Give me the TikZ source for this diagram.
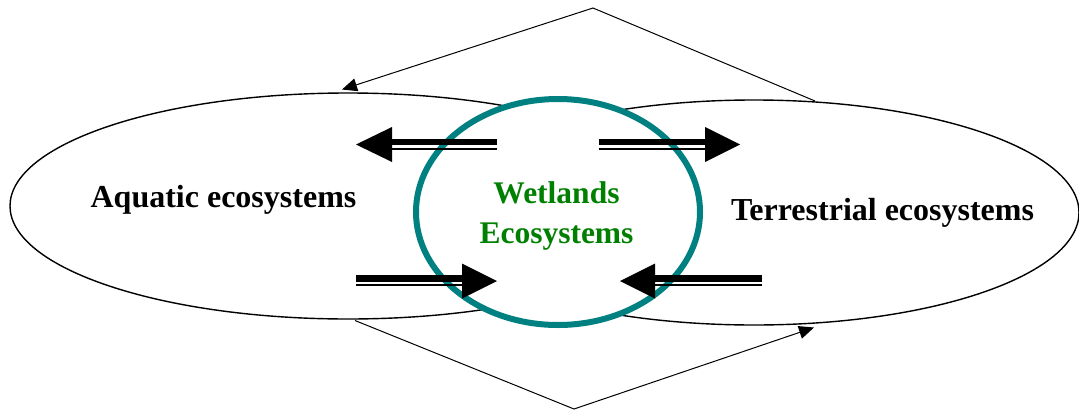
\documentclass[tikz,border=0pt]{standalone}
\usepackage{fontspec}
\setmainfont{Liberation Serif}
\usetikzlibrary{shapes.geometric,arrows.meta}
\definecolor{wetteal}{HTML}{008080}
\definecolor{wetgreen}{HTML}{008000}
\tikzset{
  eco/.style={ellipse, draw=black, line width=1.4pt, inner sep=0pt, outer sep=0pt},
  wetring/.style={ellipse, draw=wetteal, line width=6pt, fill=white, inner sep=0pt, outer sep=0pt},
  lbl/.style={font=\bfseries\fontsize{32}{38}\selectfont, inner sep=0pt, anchor=base},
  wlbl/.style={font=\bfseries\fontsize{31.5}{38}\selectfont, inner sep=0pt, anchor=base, text=wetgreen},
  thickbar/.style={line width=6.5pt},
  thinbar/.style={line width=2pt},
  headtri/.style={fill=black},
  conn/.style={line width=1pt, -{Triangle[length=15pt,width=13pt]}},
}
\begin{document}
\begin{tikzpicture}[x=1pt,y=-1pt]
\useasboundingbox (0,0) rectangle (1079,410);
% ellipses
\node[eco, minimum width=676, minimum height=226] (aqua) at (348,206) {};
\node[eco, minimum width=650, minimum height=225] (terr) at (754,212.5) {};
\node[wetring, minimum width=284, minimum height=226] (wet) at (558,212) {};
% labels
\node[lbl] (aqualbl) at (223.5,207) {Aquatic ecosystems};
\node[lbl] (terrlbl) at (882.5,220) {Terrestrial ecosystems};
\node[wlbl] (wetlbl1) at (556.5,203) {Wetlands};
\node[wlbl] (wetlbl2) at (556.5,243) {Ecosystems};
% double arrows: top-left (pointing left)
\coordinate (a1tail) at (497,142); \coordinate (a1base) at (392,142);
\draw[thickbar] (a1tail) -- (a1base);
\draw[thinbar] (497,149) -- (392,149);
\fill[headtri] (356,144.5) -- (392,127) -- (392,162) -- cycle;
% top-right (pointing right)
\coordinate (a2tail) at (599,142); \coordinate (a2base) at (705,142);
\draw[thickbar] (a2tail) -- (a2base);
\draw[thinbar] (599,149) -- (705,149);
\fill[headtri] (740,144.5) -- (705,127) -- (705,162) -- cycle;
% bottom-left (pointing right)
\coordinate (a3tail) at (356,278.5); \coordinate (a3base) at (462,278.5);
\draw[thickbar] (a3tail) -- (a3base);
\draw[thinbar] (356,285) -- (462,285);
\fill[headtri] (497,281) -- (462,263.5) -- (462,298.5) -- cycle;
% bottom-right (pointing left)
\coordinate (a4tail) at (762,278.5); \coordinate (a4base) at (655,278.5);
\draw[thickbar] (a4tail) -- (a4base);
\draw[thinbar] (762,285) -- (655,285);
\fill[headtri] (620,281) -- (655,263.5) -- (655,298.5) -- cycle;
% connectors
\coordinate (topapex) at (593,8);
\coordinate (topstart) at (815,101);
\coordinate (toptip) at (342,89.5);
\draw[conn] (topstart) -- (topapex) -- (toptip);
\coordinate (botapex) at (574,409);
\coordinate (botstart) at (355,320.5);
\coordinate (bottip) at (814,327.5);
\draw[conn] (botstart) -- (botapex) -- (bottip);
\end{tikzpicture}
\end{document}
